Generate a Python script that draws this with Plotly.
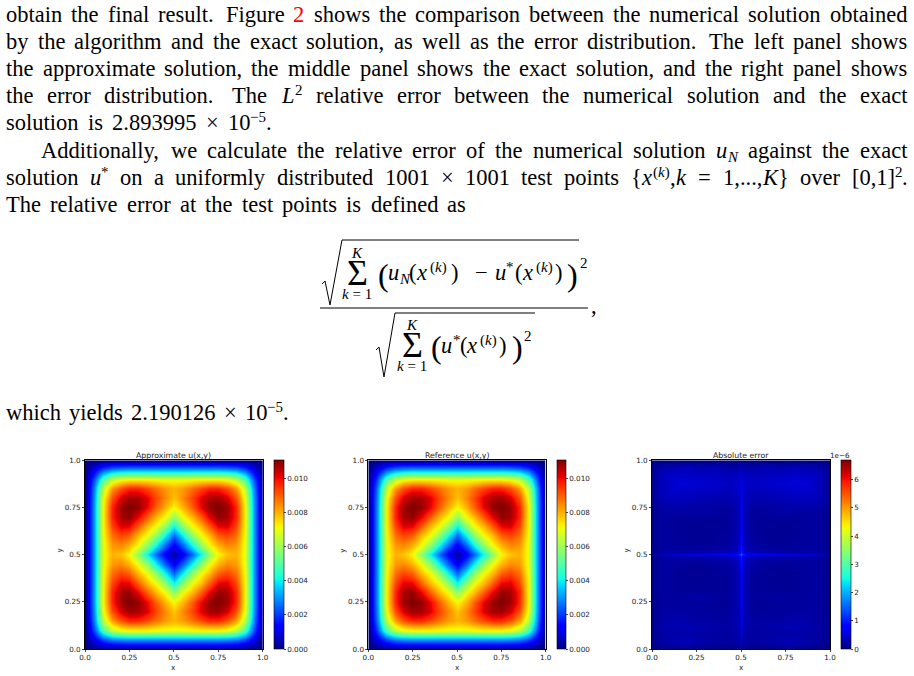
import re
import plotly.graph_objects as go

W = 914
H = 676

grid_x = [0, .05, .1, .15, .2, .25, .3, .35, .4, .45, .5, .55, .6, .65, .7, .75, .8, .85, .9, .95, 1]
# u(x,y), units of 1e-3, rows go from y=0 up to y=1
u_grid = [
    [0, 0, 0, 0, 0, 0, 0, 0, 0, 0, 0, 0, 0, 0, 0, 0, 0, 0, 0, 0, 0],
    [0, 1.1, 2.2, 2.8, 3.0, 3.1, 3.1, 3.1, 3.1, 3.1, 3.1, 3.1, 3.1, 3.1, 3.1, 3.1, 3.0, 2.8, 2.2, 1.1, 0],
    [0, 2.2, 4.9, 6.4, 7.0, 7.2, 7.2, 7.2, 7.1, 7.0, 7.0, 7.0, 7.1, 7.2, 7.2, 7.2, 7.0, 6.4, 4.9, 2.2, 0],
    [0, 2.8, 6.4, 8.3, 9.2, 9.7, 9.7, 9.3, 8.8, 8.3, 8.0, 8.3, 8.8, 9.3, 9.7, 9.7, 9.2, 8.3, 6.4, 2.8, 0],
    [0, 3.0, 7.0, 9.2, 10.3, 10.8, 10.7, 10.2, 9.3, 8.5, 7.8, 8.5, 9.3, 10.2, 10.7, 10.8, 10.3, 9.2, 7.0, 3.0, 0],
    [0, 3.1, 7.2, 9.7, 10.8, 11.1, 10.9, 10.1, 9.0, 8.0, 7.2, 8.0, 9.0, 10.1, 10.9, 11.1, 10.8, 9.7, 7.2, 3.1, 0],
    [0, 3.1, 7.2, 9.7, 10.7, 10.9, 10.1, 9.0, 7.9, 7.1, 5.8, 7.1, 7.9, 9.0, 10.1, 10.9, 10.7, 9.7, 7.2, 3.1, 0],
    [0, 3.1, 7.2, 9.3, 10.2, 10.1, 9.0, 7.9, 7.1, 5.8, 4.1, 5.8, 7.1, 7.9, 9.0, 10.1, 10.2, 9.3, 7.2, 3.1, 0],
    [0, 3.1, 7.1, 8.8, 9.3, 9.0, 7.9, 7.1, 5.8, 4.1, 2.5, 4.1, 5.8, 7.1, 7.9, 9.0, 9.3, 8.8, 7.1, 3.1, 0],
    [0, 3.1, 7.0, 8.3, 8.5, 8.0, 7.1, 5.8, 4.1, 2.5, 1.2, 2.5, 4.1, 5.8, 7.1, 8.0, 8.5, 8.3, 7.0, 3.1, 0],
    [0, 3.1, 7.0, 8.0, 7.8, 7.2, 5.8, 4.1, 2.5, 1.2, 0.3, 1.2, 2.5, 4.1, 5.8, 7.2, 7.8, 8.0, 7.0, 3.1, 0],
    [0, 3.1, 7.0, 8.3, 8.5, 8.0, 7.1, 5.8, 4.1, 2.5, 1.2, 2.5, 4.1, 5.8, 7.1, 8.0, 8.5, 8.3, 7.0, 3.1, 0],
    [0, 3.1, 7.1, 8.8, 9.3, 9.0, 7.9, 7.1, 5.8, 4.1, 2.5, 4.1, 5.8, 7.1, 7.9, 9.0, 9.3, 8.8, 7.1, 3.1, 0],
    [0, 3.1, 7.2, 9.3, 10.2, 10.1, 9.0, 7.9, 7.1, 5.8, 4.1, 5.8, 7.1, 7.9, 9.0, 10.1, 10.2, 9.3, 7.2, 3.1, 0],
    [0, 3.1, 7.2, 9.7, 10.7, 10.9, 10.1, 9.0, 7.9, 7.1, 5.8, 7.1, 7.9, 9.0, 10.1, 10.9, 10.7, 9.7, 7.2, 3.1, 0],
    [0, 3.1, 7.2, 9.7, 10.8, 11.1, 10.9, 10.1, 9.0, 8.0, 7.2, 8.0, 9.0, 10.1, 10.9, 11.1, 10.8, 9.7, 7.2, 3.1, 0],
    [0, 3.0, 7.0, 9.2, 10.3, 10.8, 10.7, 10.2, 9.3, 8.5, 7.8, 8.5, 9.3, 10.2, 10.7, 10.8, 10.3, 9.2, 7.0, 3.0, 0],
    [0, 2.8, 6.4, 8.3, 9.2, 9.7, 9.7, 9.3, 8.8, 8.3, 8.0, 8.3, 8.8, 9.3, 9.7, 9.7, 9.2, 8.3, 6.4, 2.8, 0],
    [0, 2.2, 4.9, 6.4, 7.0, 7.2, 7.2, 7.2, 7.1, 7.0, 7.0, 7.0, 7.1, 7.2, 7.2, 7.2, 7.0, 6.4, 4.9, 2.2, 0],
    [0, 1.1, 2.2, 2.8, 3.0, 3.1, 3.1, 3.1, 3.1, 3.1, 3.1, 3.1, 3.1, 3.1, 3.1, 3.1, 3.0, 2.8, 2.2, 1.1, 0],
    [0, 0, 0, 0, 0, 0, 0, 0, 0, 0, 0, 0, 0, 0, 0, 0, 0, 0, 0, 0, 0],
]

err_xy = [0, .04, .08, .12, .16, .2, .24, .28, .32, .36, .4, .44, .47, .49, .5, .51, .53, .56, .6, .64, .68, .72, .76, .8, .84, .88, .92, .96, 1]
# absolute error, units of 1e-8, rows go from y=0 up to y=1
err_grid = [
    [3, 4, 5, 5, 6, 6, 5, 5, 4, 4, 4, 4, 5, 6, 8, 6, 5, 4, 4, 4, 4, 5, 5, 6, 6, 5, 5, 4, 3],
    [8, 20, 28, 30, 32, 35, 30, 28, 25, 22, 20, 20, 22, 24, 38, 24, 22, 20, 22, 25, 28, 30, 32, 30, 28, 25, 20, 18, 8],
    [6, 18, 20, 22, 24, 24, 22, 20, 20, 18, 18, 18, 24, 26, 48, 26, 24, 18, 18, 20, 20, 22, 22, 24, 22, 20, 18, 16, 6],
    [8, 24, 30, 28, 30, 30, 28, 26, 26, 24, 22, 22, 28, 30, 60, 30, 28, 22, 24, 24, 26, 26, 28, 30, 28, 28, 24, 20, 8],
    [6, 18, 22, 28, 26, 24, 22, 20, 20, 20, 18, 20, 28, 32, 66, 32, 28, 20, 18, 20, 20, 20, 22, 24, 26, 22, 18, 16, 6],
    [6, 20, 22, 22, 20, 20, 18, 18, 18, 16, 16, 18, 28, 34, 70, 34, 28, 18, 16, 16, 18, 18, 18, 20, 20, 22, 20, 18, 6],
    [5, 16, 18, 18, 18, 16, 16, 16, 16, 14, 14, 16, 26, 34, 72, 34, 26, 16, 14, 14, 16, 16, 16, 16, 18, 18, 18, 16, 5],
    [5, 16, 18, 18, 16, 20, 24, 24, 20, 18, 16, 18, 28, 36, 74, 36, 28, 18, 16, 18, 20, 22, 20, 18, 16, 18, 18, 16, 5],
    [5, 18, 18, 16, 14, 14, 12, 12, 14, 14, 14, 16, 26, 36, 76, 36, 26, 16, 14, 14, 14, 12, 14, 14, 16, 18, 18, 16, 5],
    [5, 20, 18, 16, 14, 12, 12, 12, 12, 14, 14, 16, 26, 38, 78, 38, 26, 16, 14, 14, 12, 12, 12, 14, 16, 18, 20, 16, 5],
    [5, 18, 18, 16, 14, 12, 12, 12, 12, 14, 16, 18, 28, 40, 82, 40, 28, 18, 16, 14, 12, 12, 12, 14, 16, 18, 18, 16, 5],
    [5, 18, 18, 18, 16, 14, 14, 14, 14, 16, 18, 20, 30, 44, 88, 44, 30, 20, 18, 16, 14, 14, 14, 16, 18, 18, 18, 16, 5],
    [5, 18, 20, 20, 18, 18, 18, 18, 20, 20, 22, 24, 34, 48, 94, 48, 34, 24, 22, 20, 20, 18, 18, 18, 18, 20, 20, 16, 5],
    [5, 20, 24, 26, 26, 26, 28, 28, 30, 32, 34, 38, 46, 62, 105, 62, 46, 38, 34, 32, 30, 28, 28, 26, 26, 26, 24, 18, 5],
    [6, 30, 40, 50, 54, 58, 60, 62, 64, 66, 70, 76, 84, 110, 145, 110, 84, 76, 70, 66, 64, 62, 60, 58, 54, 50, 40, 28, 6],
    [5, 20, 24, 26, 26, 26, 28, 28, 30, 32, 34, 38, 46, 62, 105, 62, 46, 38, 34, 32, 30, 28, 28, 26, 26, 26, 24, 18, 5],
    [5, 18, 20, 20, 18, 18, 18, 18, 20, 20, 22, 24, 34, 48, 94, 48, 34, 24, 22, 20, 20, 18, 18, 18, 18, 20, 20, 16, 5],
    [5, 18, 18, 18, 16, 14, 14, 14, 14, 16, 18, 20, 30, 44, 88, 44, 30, 20, 18, 16, 14, 14, 14, 16, 18, 18, 18, 16, 5],
    [5, 18, 18, 16, 14, 12, 12, 12, 12, 14, 16, 18, 28, 40, 82, 40, 28, 18, 16, 14, 12, 12, 12, 14, 16, 18, 18, 16, 5],
    [5, 20, 18, 16, 14, 12, 12, 14, 14, 14, 14, 16, 26, 38, 78, 38, 26, 16, 14, 14, 14, 12, 12, 14, 16, 18, 20, 16, 5],
    [5, 18, 18, 16, 14, 14, 12, 12, 14, 14, 14, 16, 26, 36, 76, 36, 26, 16, 14, 14, 14, 12, 14, 14, 16, 18, 18, 16, 5],
    [5, 18, 20, 20, 18, 20, 22, 22, 20, 18, 16, 18, 28, 36, 74, 36, 28, 18, 16, 18, 20, 22, 20, 18, 18, 20, 20, 18, 5],
    [6, 22, 24, 26, 26, 24, 24, 24, 22, 20, 20, 20, 30, 36, 70, 36, 30, 20, 20, 20, 22, 24, 24, 26, 26, 26, 24, 20, 6],
    [8, 30, 34, 36, 34, 34, 32, 30, 30, 28, 28, 28, 36, 40, 66, 40, 36, 28, 28, 28, 30, 32, 34, 36, 36, 36, 34, 28, 8],
    [8, 30, 38, 44, 42, 40, 38, 38, 36, 36, 34, 34, 40, 44, 62, 44, 40, 34, 34, 36, 36, 38, 40, 42, 44, 42, 38, 28, 8],
    [7, 28, 36, 48, 50, 52, 50, 48, 46, 44, 42, 40, 44, 48, 58, 48, 44, 40, 42, 44, 46, 48, 50, 52, 50, 48, 36, 26, 7],
    [8, 32, 40, 42, 42, 42, 40, 40, 38, 38, 36, 36, 38, 40, 50, 40, 38, 36, 36, 38, 38, 40, 40, 42, 42, 42, 40, 30, 8],
    [8, 24, 30, 30, 34, 38, 32, 28, 34, 36, 28, 24, 26, 28, 36, 28, 26, 24, 28, 34, 30, 28, 32, 36, 32, 30, 28, 22, 8],
    [3, 4, 5, 5, 6, 6, 5, 5, 4, 4, 4, 4, 5, 6, 8, 6, 5, 4, 4, 4, 4, 5, 5, 6, 6, 5, 5, 4, 3],
]

axis_ticks = [0, .25, .5, .75, 1]
axis_labels = ["0.0", "0.25", "0.5", "0.75", "1.0"]
u_ticks = [0, .002, .004, .006, .008, .010]
u_labels = ["0.000", "0.002", "0.004", "0.006", "0.008", "0.010"]
err_ticks = [0, 1e-6, 2e-6, 3e-6, 4e-6, 5e-6, 6e-6]
err_labels = ["0", "1", "2", "3", "4", "5", "6"]
titles = ["Approximate u(x,y)", "Reference u(x,y)", "Absolute error"]

# matplotlib's jet
jet = [
    [0, "rgb(0,0,127)"], [.11, "rgb(0,0,255)"], [.125, "rgb(0,0,255)"], [.34, "rgb(0,219,255)"],
    [.35, "rgb(0,230,247)"], [.375, "rgb(21,255,226)"], [.64, "rgb(239,255,8)"], [.65, "rgb(247,246,0)"],
    [.66, "rgb(255,236,0)"], [.89, "rgb(255,19,0)"], [.91, "rgb(232,0,0)"], [1, "rgb(127,0,0)"],
]

SERIF = "Liberation Serif"
SANS = "DejaVu Sans"
TXT = 22.5
SCRIPT = 15
TINY = 7.2

# baseline, left, right, text
# markup: $italic$  #red#  ^{sup}  _{sub}
page_lines = [
    (22, 6, 907, "obtain the final result. Figure #2# shows the comparison between the numerical solution obtained"),
    (49, 6, 907, "by the algorithm and the exact solution, as well as the error distribution. The left panel shows"),
    (76, 6, 907, "the approximate solution, the middle panel shows the exact solution, and the right panel shows"),
    (103, 6, 907, "the error distribution. The $L$^{2} relative error between the numerical solution and the exact"),
    (130, 6, 272, "solution is 2.893995 × 10^{−5}."),
    (158, 41, 907, "Additionally, we calculate the relative error of the numerical solution $u$_{<i>N</i>} against the exact"),
    (185, 6, 908, "solution $u$^{*} on a uniformly distributed 1001 × 1001 test points {$x$^{(<i>k</i>)},$k$ = 1,...,$K$} over [0,1]^{2}."),
    (212, 6, 466, "The relative error at the test points is defined as"),
    (420, 6, 289, "which yields 2.190126 × 10^{−5}."),
]
# display formula: left, baseline, text, size
formula = [
    (388, 280, "<i>u</i>", TXT), (399, 284, "<i>N</i>", SCRIPT), (409, 280, "(", TXT), (416, 280, "<i>x</i>", TXT),
    (430, 272, "(<i>k</i>)", SCRIPT), (451, 280, ")", TXT), (475, 280, "−", TXT),
    (495, 280, "<i>u</i>", TXT), (506, 272, "*", SCRIPT), (515, 280, "(", TXT), (522, 280, "<i>x</i>", TXT),
    (536, 272, "(<i>k</i>)", SCRIPT), (555, 280, ")", TXT),
    (441, 353, "<i>u</i>", TXT), (453, 345, "*", SCRIPT), (460, 353, "(", TXT), (466, 353, "<i>x</i>", TXT),
    (480, 345, "(<i>k</i>)", SCRIPT), (499, 353, ")", TXT),
    (378, 286, "(", 32), (567, 286, ")", 32), (431, 358, "(", 32), (512, 358, ")", 32),
    (580, 268, "2", SCRIPT), (524, 341, "2", SCRIPT),
    (591, 313, ",", TXT),
]
sum_marks = [(357, 285, 253, 295), (412, 357, 325, 367)]

# Times em widths, to space the words of a line
EM = {"a": .444, "b": .5, "c": .444, "d": .5, "e": .444, "f": .333, "g": .5, "h": .5, "i": .278, "j": .278,
      "k": .5, "l": .278, "m": .778, "n": .5, "o": .5, "p": .5, "q": .5, "r": .333, "s": .389, "t": .278,
      "u": .5, "v": .5, "w": .722, "x": .5, "y": .5, "z": .444, "A": .722, "F": .556, "T": .611, "L": .611,
      "K": .722, "N": .722, ".": .25, ",": .25, "(": .333, ")": .333, "{": .48, "}": .48, "[": .333, "]": .333,
      "×": .564, "=": .564, "−": .564, "*": .5}

fig = go.Figure()

panels = [
    (85, 262.7, 274, 284),
    (368.3, 545.7, 557.3, 566.7),
    (652, 830, 841, 851),
]
top = 460.3
bottom = 649
fields = [
    ([[v * 1e-3 for v in row] for row in u_grid], grid_x, 0.0111, u_ticks, u_labels),
    ([[v * 1e-3 for v in row] for row in u_grid], grid_x, 0.0111, u_ticks, u_labels),
    ([[v * 1e-8 for v in row] for row in err_grid], err_xy, 6.7e-6, err_ticks, err_labels),
]

annotations = []


def put(x, base, text, size, font=SERIF, color="black", anchor="left"):
    # place a text by its baseline, in page pixels
    annotations.append(dict(
        xref="paper", yref="paper", x=x / W, y=1 - (base - 0.33 * size) / H,
        text=text, showarrow=False, xanchor=anchor, yanchor="middle",
        font=dict(family=font, size=size, color=color), borderpad=0, borderwidth=0,
    ))


def text_width(text, size):
    plain = re.sub("<.*?>", "", text)
    return sum(EM.get(c, .5) for c in plain) * size


def pieces(word):
    return re.findall(r"\^\{.*?\}|_\{.*?\}|\$.*?\$|#.*?#|[^^_$#]+", word)


def piece_width(p):
    if p[0] in "^_":
        return text_width(p[2:-1], SCRIPT)
    if p[0] in "$#":
        return text_width(p[1:-1], TXT)
    return text_width(p, TXT)


def draw_word(word, x, base):
    for p in pieces(word):
        if p[0] == "^":
            put(x, base - 8, p[2:-1], SCRIPT)
        elif p[0] == "_":
            put(x, base + 4, p[2:-1], SCRIPT)
        elif p[0] == "$":
            put(x, base, "<i>" + p[1:-1] + "</i>", TXT)
        elif p[0] == "#":
            put(x, base, p[1:-1], TXT, color="#ff0000")
        else:
            put(x, base, p, TXT)
        x += piece_width(p)


for i, (left, right, cb_left, cb_right) in enumerate(panels):
    z, xy, zmax, cticks, clabels = fields[i]
    suffix = "" if i == 0 else str(i + 1)
    fig.add_trace(go.Heatmap(
        z=z, x=xy, y=xy, zmin=0, zmax=zmax, colorscale=jet, zsmooth="best",
        xaxis="x" + suffix, yaxis="y" + suffix,
        colorbar=dict(
            x=cb_left / W, xanchor="left", xpad=0, ypad=0, y=1 - bottom / H, yanchor="bottom",
            len=(bottom - top) / H, thickness=cb_right - cb_left,
            tickvals=cticks, ticktext=clabels, ticks="outside", ticklen=2, tickwidth=0.6,
            tickfont=dict(family=SANS, size=TINY, color="#222"), outlinewidth=0.6, outlinecolor="black",
        ),
    ))
    axis = dict(
        tickvals=axis_ticks, ticktext=axis_labels, ticks="outside", ticklen=2, tickwidth=0.6,
        tickfont=dict(family=SANS, size=TINY, color="#222"), showgrid=False, zeroline=False,
        showline=True, linecolor="black", linewidth=0.7, mirror=True, range=[0, 1],
    )
    fig.update_layout(**{
        "xaxis" + suffix: dict(axis, domain=[left / W, right / W], anchor="y" + suffix),
        "yaxis" + suffix: dict(axis, domain=[1 - bottom / H, 1 - top / H], anchor="x" + suffix),
    })
    mid = (left + right) / 2
    put(mid, 458, titles[i], 7.8, SANS, "#222", "center")
    put(mid, 670, "x", TINY, SANS, "#222", "center")
    annotations.append(dict(
        xref="paper", yref="paper", x=(left - 26) / W, y=1 - 555 / H, text="y", textangle=-90,
        xanchor="center", showarrow=False, font=dict(family=SANS, size=TINY, color="#222"),
    ))

put(840, 458, "1e−6", TINY, SANS, "#222", "center")

for base, left, right, line in page_lines:
    words = line.split(" ")
    natural = sum(piece_width(p) for w in words for p in pieces(w))
    # sentence ends get a wider gap, as in the typeset page
    weights = [1.4 if w.endswith(".") else 1 for w in words[:-1]]
    gap = (right - left - natural) / sum(weights)
    x = left
    for n, word in enumerate(words):
        draw_word(word, x, base)
        x += sum(piece_width(p) for p in pieces(word))
        if n < len(weights):
            x += gap * weights[n]

for x, base, text, size in formula:
    put(x, base, text, size)
for sx, sigma_base, k_base, low_base in sum_marks:
    put(sx, sigma_base, "Σ", 36, anchor="center")
    put(sx, k_base + 5, "<i>K</i>", SCRIPT, anchor="center")
    put(sx, low_base + 4, "<i>k</i> = 1", SCRIPT, anchor="center")

rule = dict(color="black", width=1)
shapes = [
    dict(type="path", xref="paper", yref="paper", line=rule,
         path="M %f %f L %f %f L %f %f L %f %f L %f %f" % (
             322 / W, 1 - 284 / H, 325 / W, 1 - 281 / H, 330 / W, 1 - 305 / H, 342 / W, 1 - 240 / H, 579 / W, 1 - 240 / H)),
    dict(type="path", xref="paper", yref="paper", line=rule,
         path="M %f %f L %f %f L %f %f L %f %f L %f %f" % (
             376 / W, 1 - 350 / H, 379 / W, 1 - 347 / H, 384 / W, 1 - 377 / H, 395 / W, 1 - 313 / H, 535 / W, 1 - 313 / H)),
    dict(type="line", xref="paper", yref="paper", line=rule,
         x0=320 / W, x1=588 / W, y0=1 - 308 / H, y1=1 - 308 / H),
]

fig.update_layout(
    width=W, height=H, margin=dict(l=0, r=0, t=0, b=0, autoexpand=False), autosize=False,
    paper_bgcolor="white", plot_bgcolor="white", showlegend=False,
    annotations=annotations, shapes=shapes,
)
fig.write_html("out.html", config={"displayModeBar": False},
               post_script="document.body.style.margin='0';document.body.style.overflow='hidden';")
